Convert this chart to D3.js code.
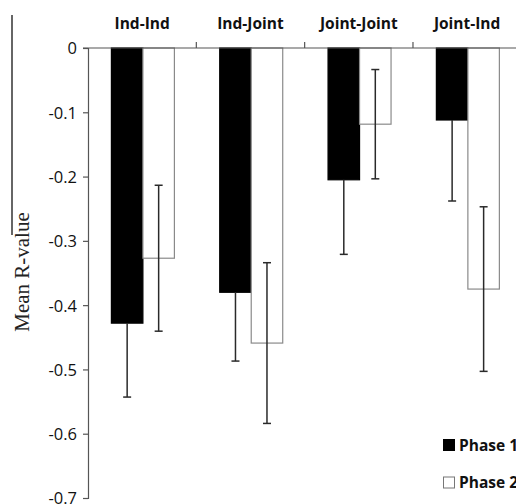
<!DOCTYPE html>
<html>
<head>
<meta charset="utf-8">
<script src="https://cdn.jsdelivr.net/npm/d3@7"></script>
<style>
  html, body { margin: 0; padding: 0; background: #fff; overflow: hidden; }
  svg { display: block; }
</style>
</head>
<body>
<svg id="chart" width="516" height="504"></svg>
<script>
// ---- data ----
const categories = ["Ind-Ind", "Ind-Joint", "Joint-Joint", "Joint-Ind"];
const seriesNames = ["Phase 1", "Phase 2"];
const phase1 = [-0.428, -0.380, -0.205, -0.112];
const phase1Err = [0.115, 0.107, 0.116, 0.126];
const phase2 = [-0.327, -0.459, -0.1185, -0.375];
const phase2Err = [0.1135, 0.125, 0.085, 0.128];
const yTicks = [0, -0.1, -0.2, -0.3, -0.4, -0.5, -0.6, -0.7];
const yLabel = "Mean R-value";

const seriesValues = [phase1, phase2];
const seriesErrs = [phase1Err, phase2Err];
const fills = ["#000000", "#ffffff"];
const strokes = ["#000000", "#8a8a8a"];
// Phase 1 error bars are drawn only on the minus side (upper half is hidden by the black bar)
const errUpper = [false, true];

const rows = [];
categories.forEach((c, i) => {
  seriesNames.forEach((s, j) => {
    rows.push({ cat: c, series: s, si: j, value: seriesValues[j][i], err: seriesErrs[j][i] });
  });
});

const svg = d3.select("#chart");

const y = d3.scaleLinear().domain([0, -0.7]).range([48, 498]);
const x0 = d3.scaleBand().domain(categories).range([88, 521.3]).paddingInner(0).paddingOuter(0);
const x1 = d3.scaleBand().domain(seriesNames).range([23.4, 86.4]).padding(0);

// stray panel border line on the left
svg.append("line")
  .attr("x1", 12).attr("x2", 12).attr("y1", 15).attr("y2", 235)
  .attr("stroke", "#333").attr("stroke-width", 1.5);

// bars
const g = svg.append("g");
g.selectAll("rect.bar").data(rows).join("rect")
  .attr("class", "bar")
  .attr("x", d => x0(d.cat) + x1(d.series))
  .attr("width", x1.bandwidth())
  .attr("y", y(0))
  .attr("height", d => y(d.value) - y(0))
  .attr("fill", d => fills[d.si])
  .attr("stroke", d => strokes[d.si])
  .attr("stroke-width", 1.2);

// error bars
const cx = d => x0(d.cat) + x1(d.series) + x1.bandwidth() / 2;
const topVal = d => errUpper[d.si] ? d.value + d.err : d.value;
const eb = g.selectAll("g.err").data(rows).join("g").attr("class", "err");
eb.append("line")
  .attr("x1", cx).attr("x2", cx)
  .attr("y1", d => y(topVal(d)))
  .attr("y2", d => y(d.value - d.err))
  .attr("stroke", "#2a2a2a").attr("stroke-width", 1.5);
eb.append("line")
  .attr("x1", d => cx(d) - 4).attr("x2", d => cx(d) + 4)
  .attr("y1", d => y(d.value - d.err)).attr("y2", d => y(d.value - d.err))
  .attr("stroke", "#2a2a2a").attr("stroke-width", 1.5);
eb.filter(d => errUpper[d.si]).append("line")
  .attr("x1", d => cx(d) - 4).attr("x2", d => cx(d) + 4)
  .attr("y1", d => y(d.value + d.err)).attr("y2", d => y(d.value + d.err))
  .attr("stroke", "#2a2a2a").attr("stroke-width", 1.5);

// y axis
const yAxis = d3.axisLeft(y).tickValues(yTicks).tickSize(5).tickPadding(6)
  .tickFormat(d => d === 0 ? "0" : d3.format(".1f")(d).replace("−", "-"));
const ya = svg.append("g").attr("transform", "translate(88,0)").call(yAxis);
ya.select(".domain").attr("stroke", "#555").attr("stroke-width", 1.2);
ya.selectAll(".tick line").attr("stroke", "#555").attr("stroke-width", 1.2);
ya.selectAll(".tick text")
  .attr("font-family", "'Open Sans', sans-serif")
  .attr("font-size", 16.5)
  .attr("fill", "#111")
  .attr("dy", "0.36em");

// x axis at top (zero line), category ticks pointing up
const xa = svg.append("g").attr("transform", `translate(0,${y(0)})`)
  .call(d3.axisTop(x0).tickSize(0).tickFormat(""));
xa.select(".domain").attr("d", `M83,0H${x0.range()[1]}`).attr("stroke", "#555").attr("stroke-width", 1.2);
const boundaries = categories.slice(1).map(c => x0(c)).concat([x0.range()[1]]);
svg.append("g").selectAll("line").data(boundaries).join("line")
  .attr("x1", d => d).attr("x2", d => d)
  .attr("y1", y(0) - 6).attr("y2", y(0))
  .attr("stroke", "#555").attr("stroke-width", 1.2);

// category labels
svg.append("g").selectAll("text").data(categories).join("text")
  .attr("x", d => x0(d) + x0.bandwidth() / 2)
  .attr("y", 29)
  .attr("text-anchor", "middle")
  .attr("font-family", "'Open Sans', sans-serif")
  .attr("font-weight", "bold")
  .attr("font-size", 15.5)
  .attr("fill", "#111")
  .text(d => d);

// y label
svg.append("text")
  .attr("transform", "translate(29,272) rotate(-90)")
  .attr("text-anchor", "middle")
  .attr("font-family", "'Liberation Serif', 'Times New Roman', serif")
  .attr("font-size", 21)
  .attr("fill", "#222")
  .text(yLabel);

// legend
const leg = svg.append("g").selectAll("g").data(seriesNames).join("g")
  .attr("transform", (d, i) => `translate(443,${439 + i * 37.5})`);
leg.append("rect")
  .attr("x", 0.5).attr("y", 0.5).attr("width", 11).attr("height", 11)
  .attr("fill", (d, i) => fills[i])
  .attr("stroke", (d, i) => i === 0 ? "#000" : "#777")
  .attr("stroke-width", 1);
leg.append("text")
  .attr("x", 16).attr("y", 11.5)
  .attr("font-family", "'Open Sans', sans-serif")
  .attr("font-weight", "bold")
  .attr("font-size", 15.5)
  .attr("fill", "#111")
  .text(d => d);
</script>
</body>
</html>
